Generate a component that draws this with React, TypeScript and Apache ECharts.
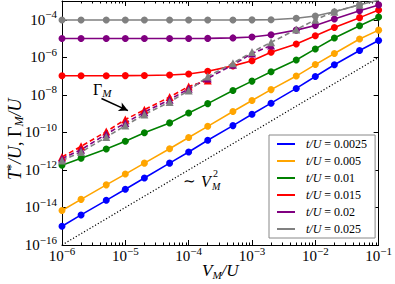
import React, { useEffect, useRef } from 'react';
import * as echarts from 'echarts';

// ---- data ----
const V = [1e-6, 2e-6, 5e-6, 1e-5, 2e-5, 5e-5, 1e-4, 2e-4, 5e-4, 1e-3, 2e-3, 5e-3, 1e-2, 2e-2, 5e-2, 1e-1];
const tValues = ['0.0025', '0.005', '0.01', '0.015', '0.02', '0.025'];
const colors = ['#0000ff', '#ffa500', '#008000', '#ff0000', '#800080', '#808080'];

const T_0025 = [1.0e-15, 4.0e-15, 2.4e-14, 9.3e-14, 3.7e-13, 2.3e-12, 9.0e-12, 3.8e-11, 2.3e-10, 9.2e-10, 3.6e-9, 2.2e-8, 9.5e-8, 4.0e-7, 2.3e-6, 7.8e-6];
const T_005 = [6.9e-15, 2.7e-14, 1.6e-13, 6.0e-13, 2.3e-12, 1.35e-11, 5.3e-11, 2.1e-10, 1.3e-9, 5.0e-9, 1.9e-8, 1.0e-7, 4.1e-7, 1.6e-6, 9.5e-6, 2.8e-5];
const T_01 = [1.8e-12, 4.2e-12, 1.3e-11, 3.4e-11, 9.5e-11, 3.2e-10, 1.07e-9, 3.4e-9, 1.7e-8, 5.4e-8, 1.7e-7, 7.2e-7, 2.8e-6, 1.07e-5, 4.8e-5, 1.4e-4];
const T_015 = [1.05e-7, 1.05e-7, 1.05e-7, 1.06e-7, 1.08e-7, 1.15e-7, 1.3e-7, 1.8e-7, 3.5e-7, 6.6e-7, 1.86e-6, 5.1e-6, 1.4e-5, 3.9e-5, 1.3e-4, 3.3e-4];
const T_02 = [1.0e-5, 1.0e-5, 1.0e-5, 1.0e-5, 1.0e-5, 1.0e-5, 1.0e-5, 1.02e-5, 1.08e-5, 1.2e-5, 1.6e-5, 2.8e-5, 5.0e-5, 1.1e-4, 3.0e-4, 6.2e-4];
const T_025 = [9.8e-5, 9.8e-5, 9.8e-5, 9.8e-5, 9.8e-5, 9.8e-5, 9.8e-5, 9.8e-5, 9.8e-5, 9.9e-5, 1.0e-4, 1.2e-4, 1.6e-4, 2.7e-4, 6.3e-4, 1.1e-3];
const Tstar = [T_0025, T_005, T_01, T_015, T_02, T_025];

// Gamma_M (dashed, triangles) for t/U = 0.015, 0.02, 0.025
const G_015 = [4.9e-12, 1.8e-11, 1.1e-10, 4.8e-10, 1.6e-9, 7.6e-9, 2.8e-8, 5.8e-8];
const G_02 = [4.0e-12, 1.2e-11, 8.0e-11, 3.2e-10, 1.2e-9, 5.5e-9, 2.1e-8, 7.5e-8, 4.0e-7, 1.6e-6, 4.2e-6];
const G_025 = [3.2e-12, 8.9e-12, 5.6e-11, 2.3e-10, 9.1e-10, 4.1e-9, 1.7e-8, 9.5e-8, 4.8e-7, 1.9e-6, 6.3e-6, 3.0e-5, 1.0e-4, 2.7e-4, 6.3e-4];
const Gamma = [G_015, G_02, G_025];
const gammaColors = ['#ff0000', '#800080', '#808080'];

// reference V^2 line
const refV = [1e-6, 1e-1];
const refT = [1e-16, 1e-6];

// ticks
const xTicks = [1e-6, 1e-5, 1e-4, 1e-3, 1e-2, 1e-1];
const yTicks = [1e-16, 1e-14, 1e-12, 1e-10, 1e-8, 1e-6, 1e-4];

const FONT = 'Liberation Serif';

const xMinor: number[] = [];
for (let n = -6; n < -1; n++) for (let k = 2; k <= 9; k++) xMinor.push(k * Math.pow(10, n));

const supFmt = (v: number) => {
  const e = Math.round(Math.log10(v));
  return `{b|10}{s|${e < 0 ? '\u2212' : ''}${Math.abs(e)}}`;
};
const labelRich = {
  b: { fontSize: 15, fontFamily: FONT, color: '#000', lineHeight: 22 },
  s: { fontSize: 11, fontFamily: FONT, color: '#000', lineHeight: 11, verticalAlign: 'top' as const },
};

export default function App() {
  const ref = useRef<HTMLDivElement>(null);
  useEffect(() => {
    if (!ref.current) return;
    const chart = echarts.init(ref.current, undefined, { renderer: 'svg' });

    const baseX = { type: 'log' as const, logBase: 10, min: 1e-6, max: 1e-1, splitLine: { show: false } };
    const baseY = { type: 'log' as const, logBase: 10, min: 1e-16, max: 1e-3, splitLine: { show: false } };
    const line = { show: true, lineStyle: { color: '#000', width: 1 } };

    const xAxes = [
      { ...baseX, position: 'bottom', axisLine: line,
        axisTick: { show: true, inside: true, length: 5, customValues: xTicks, lineStyle: { color: '#000' } },
        axisLabel: { show: true, customValues: xTicks, margin: 0, formatter: supFmt, rich: labelRich } },
      { ...baseX, position: 'bottom', axisLine: { show: false },
        axisTick: { show: true, inside: true, length: 2.5, customValues: xMinor, lineStyle: { color: '#000' } },
        axisLabel: { show: false } },
      { ...baseX, position: 'top', axisLine: line,
        axisTick: { show: true, inside: true, length: 5, customValues: xTicks, lineStyle: { color: '#000' } },
        axisLabel: { show: false } },
      { ...baseX, position: 'top', axisLine: { show: false },
        axisTick: { show: true, inside: true, length: 2.5, customValues: xMinor, lineStyle: { color: '#000' } },
        axisLabel: { show: false } },
    ];
    const yAxes = [
      { ...baseY, position: 'left', axisLine: line,
        axisTick: { show: true, inside: true, length: 5, customValues: yTicks, lineStyle: { color: '#000' } },
        axisLabel: { show: true, customValues: yTicks, margin: 5, formatter: supFmt, rich: labelRich } },
      { ...baseY, position: 'right', axisLine: line,
        axisTick: { show: true, inside: true, length: 5, customValues: yTicks, lineStyle: { color: '#000' } },
        axisLabel: { show: false } },
    ];

    const series: any[] = [];
    Tstar.forEach((arr, i) => {
      series.push({
        name: `t/U = ${tValues[i]}`,
        type: 'line',
        data: arr.map((y, j) => [V[j], y]),
        symbol: 'circle', symbolSize: 7,
        lineStyle: { color: colors[i], width: 1.6 },
        itemStyle: { color: colors[i] },
        clip: true, z: 2,
      });
    });
    Gamma.forEach((arr, i) => {
      series.push({
        name: `Gamma ${i}`,
        type: 'line',
        data: arr.map((y, j) => [V[j], y]),
        symbol: 'triangle', symbolSize: 8,
        lineStyle: { color: gammaColors[i], width: 1.6, type: [5, 3] },
        itemStyle: { color: gammaColors[i] },
        clip: true, z: 3,
      });
    });
    series.push({
      name: 'ref',
      type: 'line',
      data: refV.map((x, j) => [x, refT[j]]),
      symbol: 'none',
      lineStyle: { color: '#000', width: 1.2, type: [1.2, 2] },
      clip: true, z: 1,
      markLine: {
        silent: true, symbol: ['none', 'arrow'], symbolSize: [7, 9],
        label: { show: false },
        lineStyle: { color: '#000', width: 1.5, type: 'solid' },
        data: [[{ coord: [4.2e-6, 6.4e-9] }, { coord: [1.1e-5, 1.45e-9] }]],
      },
    });

    chart.setOption({
      animation: false,
      backgroundColor: '#fff',
      grid: { left: 62, right: 15, top: 1, bottom: 39, containLabel: false },
      xAxis: xAxes,
      yAxis: yAxes,
      legend: {
        data: tValues.map((t) => `t/U = ${t}`),
        orient: 'vertical',
        left: 269, top: 135,
        padding: [2, 8, 2, 8],
        itemWidth: 18, itemHeight: 2, itemGap: 3,
        icon: 'rect',
        backgroundColor: '#fff',
        borderColor: '#888', borderWidth: 1, borderRadius: 0,
        formatter: (name: string) => `{i|t/U} = ${name.split('= ')[1]}`,
        textStyle: {
          fontFamily: FONT, fontSize: 12, color: '#000', lineHeight: 14, padding: [0, 0, 0, 6],
          rich: { i: { fontFamily: FONT, fontSize: 12, fontStyle: 'italic', color: '#000' } },
        },
      },
      graphic: [
        { type: 'text', left: 202, top: 262, style: {
          text: '{i|V}{sub|M}{i|/U}', fill: '#000',
          rich: { i: { fontFamily: FONT, fontStyle: 'italic', fontSize: 17, lineHeight: 19 }, sub: { fontFamily: FONT, fontStyle: 'italic', fontSize: 11, lineHeight: 11, verticalAlign: 'bottom' } } } },
        { type: 'text', x: 5, y: 180, rotation: Math.PI / 2, style: {
          text: '{i|T}{sup|*}{i|/U}{r|, Γ}{sub|M}{i|/U}', fill: '#000',
          rich: {
            i: { fontFamily: FONT, fontStyle: 'italic', fontSize: 18, lineHeight: 20 },
            r: { fontFamily: FONT, fontSize: 18, lineHeight: 20 },
            sup: { fontFamily: FONT, fontSize: 12, lineHeight: 12, verticalAlign: 'top' },
            sub: { fontFamily: FONT, fontStyle: 'italic', fontSize: 12, lineHeight: 12, verticalAlign: 'bottom' },
          } } },
        { type: 'text', x: 93, y: 80, style: {
          text: '{r|Γ}{sub|M}', fill: '#000',
          rich: { r: { fontFamily: FONT, fontSize: 16, lineHeight: 18 }, sub: { fontFamily: FONT, fontStyle: 'italic', fontSize: 11, lineHeight: 11, verticalAlign: 'bottom' } } } },
        { type: 'text', x: 183, y: 173, style: { text: '\u223C', fill: '#000', font: `15px "${FONT}"` } },
        { type: 'text', x: 201, y: 173, style: { text: 'V', fill: '#000', font: `italic 16px "${FONT}"` } },
        { type: 'text', x: 213, y: 168, style: { text: '2', fill: '#000', font: `10px "${FONT}"` } },
        { type: 'text', x: 212, y: 181, style: { text: 'M', fill: '#000', font: `italic 10px "${FONT}"` } },
      ],
      series,
    });
    return () => chart.dispose();
  }, []);
  return <div ref={ref} style={{ width: 395, height: 284, position: 'absolute', left: 0, top: 0 }} />;
}
